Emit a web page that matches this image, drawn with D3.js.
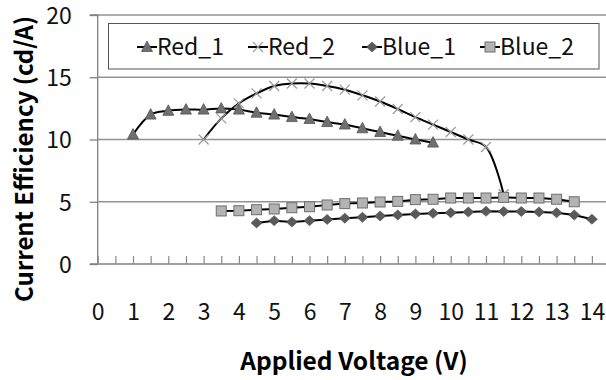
<!DOCTYPE html>
<html><head><meta charset="utf-8">
<script src="https://cdn.jsdelivr.net/npm/d3@7"></script>
<style>html,body{margin:0;padding:0;background:#fff;overflow:hidden}</style>
</head><body>
<svg id="c" width="606" height="380"></svg>
<script>
const red1X = [1,1.5,2,2.5,3,3.5,4,4.5,5,5.5,6,6.5,7,7.5,8,8.5,9,9.5];
const red1Y = [10.4,12.0,12.3,12.4,12.4,12.5,12.4,12.15,12.0,11.8,11.65,11.4,11.2,10.9,10.6,10.3,10.0,9.75];
const red2X = [3,3.5,4,4.5,5,5.5,6,6.5,7,7.5,8,8.5,9,9.5,10,10.5,11,11.5];
const red2Y = [10.0,11.7,12.9,13.7,14.3,14.5,14.5,14.3,14.0,13.55,13.05,12.45,11.8,11.2,10.6,10.0,9.4,5.6];
const blue1X = [4.5,5,5.5,6,6.5,7,7.5,8,8.5,9,9.5,10,10.5,11,11.5,12,12.5,13,13.5,14];
const blue1Y = [3.3,3.48,3.38,3.48,3.58,3.68,3.75,3.86,3.94,4.02,4.07,4.12,4.18,4.23,4.22,4.22,4.18,4.12,3.94,3.6];
const blue2X = [3.5,4,4.5,5,5.5,6,6.5,7,7.5,8,8.5,9,9.5,10,10.5,11,11.5,12,12.5,13,13.5];
const blue2Y = [4.26,4.28,4.36,4.42,4.52,4.6,4.74,4.85,4.9,4.98,5.03,5.17,5.2,5.3,5.3,5.3,5.35,5.3,5.3,5.2,5.0];
const seriesNames = ["Red_1","Red_2","Blue_1","Blue_2"];
const xTicks = [0,1,2,3,4,5,6,7,8,9,10,11,12,13,14];
const xMinorTicks = d3.range(0, 14.51, 0.5);
const yTicks = [0,5,10,15,20];
const xTitle = "Applied Voltage (V)";
const yTitle = "Current Efficiency (cd/A)";

const FONT = "'Noto Sans CJK KR', 'Noto Sans', sans-serif";
const svg = d3.select("#c");
const x = d3.scaleLinear().domain([0,14.5]).range([97.7, 97.7 + 14.5*35.3]);
const y = d3.scaleLinear().domain([0,20]).range([264, 15]);

// gridlines
svg.append("g").selectAll("line").data(yTicks.filter(d=>d>0)).join("line")
  .attr("x1", x(0)).attr("x2", 620).attr("y1", d=>y(d)).attr("y2", d=>y(d))
  .attr("stroke", "#939393").attr("stroke-width", 1.3);

// y axis
const yAxis = d3.axisLeft(y).tickValues(yTicks).tickSize(8).tickPadding(18);
const gy = svg.append("g").attr("transform", `translate(${x(0)},0)`).call(yAxis);
gy.select(".domain").attr("stroke", "#808080").attr("stroke-width", 1.3).attr("d", `M-8,${y(20)}H0V${y(0)}`);
gy.selectAll(".tick line").attr("stroke", "#808080").attr("stroke-width", 1.3);
gy.selectAll(".tick text").attr("font-family", FONT).attr("font-size", 23).attr("fill", "#111").attr("dy", "0.36em");

// x axis minor ticks (inside)
const xAxis = d3.axisBottom(x).tickValues(xMinorTicks).tickSize(-8).tickFormat("");
const gx = svg.append("g").attr("transform", `translate(0,${y(0)})`).call(xAxis);
gx.select(".domain").attr("stroke", "#808080").attr("stroke-width", 1.3).attr("d", `M${x(0)-8},0H620`);
gx.selectAll(".tick line").attr("stroke", "#8a8a8a").attr("stroke-width", 1.2);
// x labels
const xLab = d3.axisBottom(x).tickValues(xTicks).tickSize(0).tickPadding(40).tickFormat(d3.format("d"));
const gxl = svg.append("g").attr("transform", `translate(0,${y(0)})`).call(xLab);
gxl.select(".domain").remove();
gxl.selectAll(".tick text").attr("font-family", FONT).attr("font-size", 23).attr("fill", "#111");

// titles
svg.append("text").attr("x", 354).attr("y", 370).attr("text-anchor","middle")
  .attr("font-family", FONT).attr("font-weight", "bold").attr("font-size", 24.5).attr("fill","#000").text(xTitle);
svg.append("text").attr("transform", "translate(33,159) rotate(-90)").attr("text-anchor","middle")
  .attr("font-family", FONT).attr("font-weight", "bold").attr("font-size", 24).attr("fill","#000").text(yTitle);

// series
const series = [
  {name: seriesNames[0], xs: red1X, ys: red1Y, curve: d3.curveCatmullRom, marker: "tri"},
  {name: seriesNames[1], xs: red2X, ys: red2Y, curve: d3.curveCatmullRom, marker: "x"},
  {name: seriesNames[2], xs: blue1X, ys: blue1Y, curve: d3.curveLinear, marker: "dia"},
  {name: seriesNames[3], xs: blue2X, ys: blue2Y, curve: d3.curveLinear, marker: "sq"}
];
function drawMarker(g, type, cx, cy) {
  if (type === "tri") {
    g.append("path").attr("d", `M${cx},${cy-6}L${cx+5.5},${cy+4.5}L${cx-5.5},${cy+4.5}Z`)
      .attr("fill", "#6f6f6f").attr("stroke", "#555").attr("stroke-width", 0.8);
  } else if (type === "x") {
    g.append("path").attr("d", `M${cx-5},${cy-5}L${cx+5},${cy+5}M${cx+5},${cy-5}L${cx-5},${cy+5}`)
      .attr("stroke", "#9a9a9a").attr("stroke-width", 1.2).attr("fill","none");
  } else if (type === "dia") {
    g.append("path").attr("d", `M${cx},${cy-5}L${cx+5.5},${cy}L${cx},${cy+5}L${cx-5.5},${cy}Z`)
      .attr("fill", "#5a5a5a").attr("stroke", "#4a4a4a").attr("stroke-width", 0.6);
  } else {
    g.append("rect").attr("x", cx-5).attr("y", cy-5).attr("width", 10).attr("height", 10)
      .attr("fill", "#b3b3b3").attr("stroke", "#6f6f6f").attr("stroke-width", 1);
  }
}
series.forEach(s => {
  s.pts = s.xs.map((v,i)=>[x(v), y(s.ys[i])]);
});
series.forEach(s => {
  const g = svg.append("g");
  g.append("path").attr("d", d3.line().curve(s.curve)(s.pts)).attr("fill","none")
    .attr("stroke","#000").attr("stroke-width", 2);
  s.pts.forEach(p => drawMarker(g, s.marker, p[0], p[1]));
});

// legend
const lg = svg.append("g");
lg.append("rect").attr("x", 108.5).attr("y", 23.5).attr("width", 490.5).attr("height", 45.5)
  .attr("fill", "#fff").attr("stroke", "#555").attr("stroke-width", 1);
const legendMarkerX = [147, 258, 372, 490];
series.forEach((s,i) => {
  const cx = legendMarkerX[i], cy = 47;
  lg.append("line").attr("x1", cx-10).attr("x2", cx+10).attr("y1", cy).attr("y2", cy)
    .attr("stroke", "#000").attr("stroke-width", 2);
  drawMarker(lg, s.marker, cx, cy);
  lg.append("text").attr("x", cx+10).attr("y", cy).attr("dy", "0.36em")
    .attr("font-family", FONT).attr("font-size", 23).attr("fill", "#111").text(s.name);
});
</script>
</body></html>
